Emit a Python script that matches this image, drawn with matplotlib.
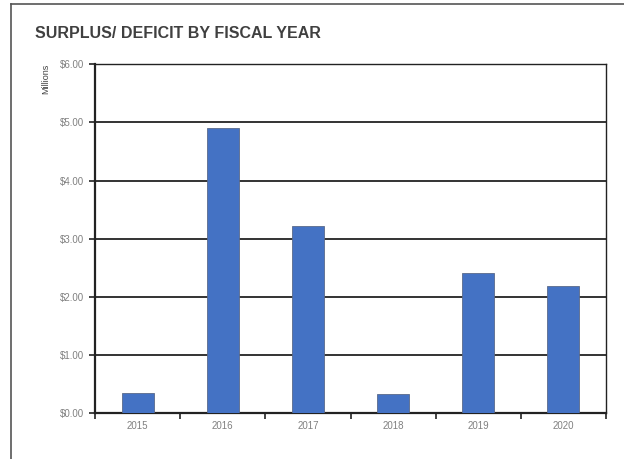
import numpy as np
import matplotlib.pyplot as plt
from matplotlib.lines import Line2D

plt.rcParams['font.family'] = ['Liberation Sans', 'DejaVu Sans']

years = ['2015', '2016', '2017', '2018', '2019', '2020']
surplus = [0.35, 4.90, 3.21, 0.33, 2.41, 2.19]  # millions of dollars
yticks = [0, 1, 2, 3, 4, 5, 6]

fig = plt.figure(figsize=(6.24, 4.59), dpi=100)
ax = fig.add_axes([0.1522, 0.100, 0.819, 0.760])

x = np.arange(len(years))
ax.bar(x, surplus, width=0.375, color='#4472C4', edgecolor='#5a6a8a',
       linewidth=0.6, zorder=3)

ax.set_xlim(-0.5, len(years) - 0.5)
ax.set_ylim(0, 6)
ax.set_yticks(yticks)
ax.set_yticklabels(['$%.2f' % v for v in yticks])
ax.set_xticks(x)
ax.set_xticklabels(years)
ax.set_xticks(np.arange(-0.5, len(years)), minor=True)
ax.tick_params(axis='x', which='major', length=0, pad=6, labelsize=7,
               labelcolor='#808080')
ax.tick_params(axis='x', which='minor', length=4, width=1.2, color='#222222')
ax.tick_params(axis='y', length=4, width=1.2, color='#222222', pad=4,
               labelsize=7, labelcolor='#808080')

ax.grid(axis='y', color='#111111', linewidth=1.2, zorder=0)
for side in ['left', 'bottom']:
    ax.spines[side].set_linewidth(1.6)
    ax.spines[side].set_color('#222222')
for side in ['top', 'right']:
    ax.spines[side].set_linewidth(1.0)
    ax.spines[side].set_color('#222222')

fig.text(0.056, 0.928, 'SURPLUS/ DEFICIT BY FISCAL YEAR',
         fontsize=11.5, color='#404040', fontweight='bold', va='center')
fig.text(0.073, 0.828, 'Millions', rotation=90, fontsize=6.5,
         color='#404040', va='center', ha='center')

# outer frame of the original picture
fig.add_artist(Line2D([0.018, 0.018], [0.0, 0.991], transform=fig.transFigure,
                      color='#555555', linewidth=1.2))
fig.add_artist(Line2D([0.018, 1.0], [0.991, 0.991], transform=fig.transFigure,
                      color='#555555', linewidth=1.2))

fig.savefig('out.png', dpi=100)
